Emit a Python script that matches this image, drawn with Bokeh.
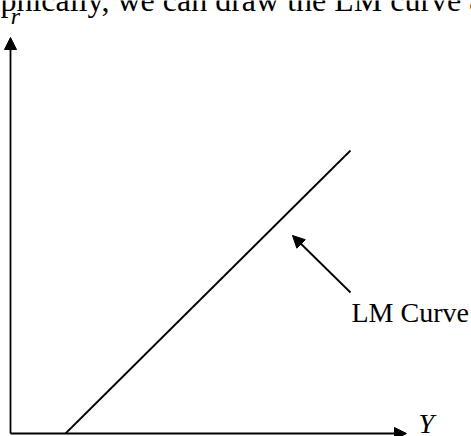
from bokeh.plotting import figure
from bokeh.models import Range1d, Arrow, NormalHead
from bokeh.core.properties import value
from bokeh.embed import file_html
from bokeh.resources import INLINE

# Axis extents (model units, origin at the axis corner)
axis_len_y = 396
axis_len_r = 396

# LM curve: output Y against interest rate r
lm_Y = [55, 340]
lm_r = [0, 283]

# Pointer to the curve and its label
pointer_from = (340, 141)
pointer_to = (282, 198)
curve_label = "LM Curve"
label_pos = (341, 112)

# Axis labels
x_label = "Y"
y_label = "r"
x_label_pos = (408, 1)
y_label_pos = (5, 409)

# Running text line above the diagram
caption = "Graphically, we can draw the LM curve as"
caption_pos = (-58, 425)

W, H = 471, 436
p = figure(width=W, height=H, output_backend="svg", toolbar_location=None,
           x_range=Range1d(-10, W - 10), y_range=Range1d(-3, H - 3),
           x_axis_type=None, y_axis_type=None, min_border=0,
           outline_line_color=None, background_fill_color="white",
           border_fill_color="white")
p.grid.visible = False

serif = value("Liberation Serif")
# the svg text sits a little below its anchor; lift it onto the baseline
lift = -9


def head():
    return NormalHead(size=12, fill_color="black", fill_alpha=1.0,
                      line_color="black", line_width=1)


# axes with arrowheads
p.add_layout(Arrow(x_start=0, y_start=0, x_end=0, y_end=axis_len_r,
                   line_width=1.8, line_color="black", end=head()))
p.add_layout(Arrow(x_start=0, y_start=0, x_end=axis_len_y, y_end=0,
                   line_width=1.8, line_color="black", end=head()))

# the LM curve
p.line(lm_Y, lm_r, line_width=1.8, line_color="black")

# pointer arrow
p.add_layout(Arrow(x_start=pointer_from[0], y_start=pointer_from[1],
                   x_end=pointer_to[0], y_end=pointer_to[1],
                   line_width=1.8, line_color="black", end=head()))

# labels
p.text(x=[label_pos[0]], y=[label_pos[1]], text=[curve_label],
       text_font=serif, text_font_size="28px", text_color="black",
       text_align="left", text_baseline="alphabetic", y_offset=lift)
p.text(x=[x_label_pos[0]], y=[x_label_pos[1]], text=[x_label],
       text_font=serif, text_font_size="28px", text_font_style="italic",
       text_color="black", text_align="left", text_baseline="alphabetic",
       y_offset=lift)
p.text(x=[y_label_pos[0]], y=[y_label_pos[1]], text=[y_label],
       text_font=serif, text_font_size="24px", text_font_style="italic",
       text_color="black", text_align="center", text_baseline="alphabetic",
       y_offset=lift)
p.text(x=[caption_pos[0]], y=[caption_pos[1]], text=[caption],
       text_font=serif, text_font_size="32px", text_color="black",
       text_align="left", text_baseline="alphabetic", y_offset=lift)

open("out.html", "w").write(file_html(p, INLINE))
